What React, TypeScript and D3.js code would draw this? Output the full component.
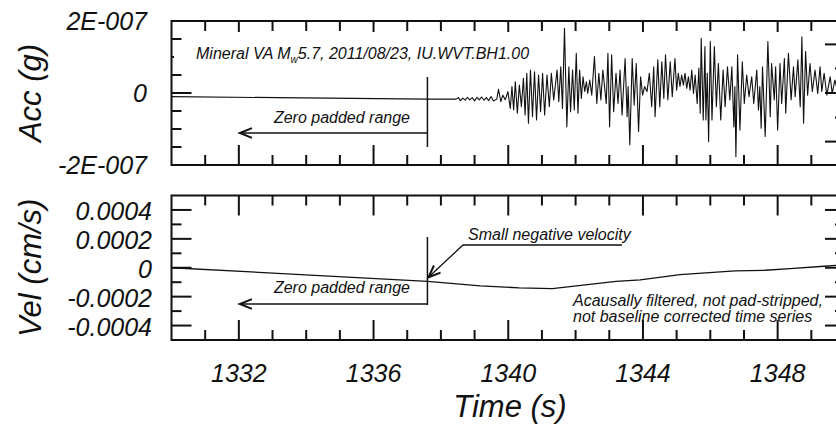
import React from 'react';
import * as d3 from 'd3';

// ---------- data ----------
const timeDomain: [number, number] = [1330, 1350];
const timeMajorTicks = [1332, 1336, 1340, 1344, 1348];
const timeMinorTicks = [1331, 1333, 1334, 1335, 1337, 1338, 1339, 1341, 1342, 1343, 1345, 1346, 1347, 1349];

// acceleration in units of 1e-7 g
const accDomain: [number, number] = [-2, 2];
const accMajorTicks = [-2, 0, 2];
const accTickLabels = ['-2E-007', '0', '2E-007'];
const accMinorTicks = [-1.5, -1, -0.5, 0.5, 1, 1.5];
const accRightMajorTicks = [-1.35, 0, 1.35];
const accRightMinorTicks = [-0.68, 0.68];

const velDomain: [number, number] = [-0.0005, 0.0005];
const velMajorTicks = [-0.0004, -0.0002, 0, 0.0002, 0.0004];
const velTickLabels = ['-0.0004', '-0.0002', '0', '0.0002', '0.0004'];
const velMinorTicks = [-0.0003, -0.0001, 0.0001, 0.0003];

// [time (s), acceleration (1e-7 g)]
const accSeries: [number, number][] = [
  [1330.0, -0.1], [1337.6, -0.17], [1338.45, -0.17], [1338.52, -0.13], [1338.58, -0.21],
  [1338.65, -0.14], [1338.72, -0.2], [1338.79, -0.12], [1338.86, -0.19], [1338.93, -0.13],
  [1339.0, -0.22], [1339.07, -0.12], [1339.14, -0.19], [1339.21, -0.11], [1339.28, -0.2],
  [1339.35, -0.13], [1339.42, -0.21], [1339.49, -0.1], [1339.56, -0.22], [1339.66, -0.17],
  [1339.71, 0.1], [1339.78, -0.24], [1339.84, -0.06], [1339.91, -0.19], [1339.99, 0.04],
  [1340.06, -0.43], [1340.11, 0.18], [1340.16, -0.47], [1340.21, 0.31], [1340.27, -0.56],
  [1340.33, 0.22], [1340.39, -0.38], [1340.45, 0.41], [1340.5, -0.61], [1340.55, 0.55],
  [1340.6, -0.84], [1340.66, 0.64], [1340.72, -0.66], [1340.78, 0.59], [1340.84, -0.75],
  [1340.9, 0.5], [1340.96, -0.52], [1341.02, 0.55], [1341.08, -0.61], [1341.15, 0.5],
  [1341.22, -0.38], [1341.28, 0.55], [1341.35, -0.19], [1341.45, 0.64], [1341.5, -0.24],
  [1341.56, 0.73], [1341.61, -0.43], [1341.67, 1.8], [1341.74, -0.94], [1341.8, 0.73],
  [1341.85, -0.52], [1341.91, 0.64], [1341.96, -0.47], [1342.02, 1.1], [1342.07, -0.56],
  [1342.12, 0.64], [1342.17, -0.15], [1342.22, 0.45], [1342.27, 0.04], [1342.32, 0.31],
  [1342.36, -0.01], [1342.42, 0.36], [1342.48, -0.06], [1342.56, 1.01], [1342.63, -0.29],
  [1342.69, 0.55], [1342.75, -0.19], [1342.81, 0.64], [1342.91, -0.29], [1342.96, 1.1],
  [1343.01, -0.94], [1343.07, 1.06], [1343.13, -0.52], [1343.2, 0.55], [1343.26, -0.29],
  [1343.32, 0.64], [1343.38, -0.61], [1343.47, 0.96], [1343.53, -0.66], [1343.56, 0.18],
  [1343.61, -1.44], [1343.68, 0.96], [1343.74, -0.33], [1343.8, 0.82], [1343.87, -1.07],
  [1343.93, 0.45], [1343.99, -0.06], [1344.05, 0.18], [1344.12, 0.04], [1344.19, 0.55],
  [1344.26, -0.38], [1344.32, 0.73], [1344.36, -0.66], [1344.44, 0.92], [1344.5, -0.38],
  [1344.56, 0.87], [1344.62, -0.15], [1344.67, 1.06], [1344.74, -0.19], [1344.81, 0.87],
  [1344.87, -0.1], [1344.95, 0.96], [1345.0, 0.08], [1345.05, 0.55], [1345.1, 0.18],
  [1345.15, 0.5], [1345.2, 0.22], [1345.25, 0.55], [1345.3, 0.13], [1345.35, 0.45],
  [1345.4, 0.08], [1345.45, 0.64], [1345.5, -0.01], [1345.55, 0.5], [1345.61, -0.29],
  [1345.66, 0.69], [1345.7, -0.56], [1345.73, 1.52], [1345.79, -0.75], [1345.84, 1.29],
  [1345.87, -0.75], [1345.91, 0.55], [1345.95, -1.35], [1346.0, 1.43], [1346.05, -0.75],
  [1346.12, 1.29], [1346.18, -0.38], [1346.24, 0.82], [1346.31, -0.75], [1346.38, 0.64],
  [1346.44, -0.38], [1346.51, 0.73], [1346.58, -0.19], [1346.64, 0.73], [1346.7, -0.94],
  [1346.73, 0.18], [1346.76, -1.77], [1346.81, 1.06], [1346.88, -1.03], [1346.95, 0.87],
  [1347.01, -0.29], [1347.08, 0.5], [1347.15, -0.1], [1347.23, 0.45], [1347.29, -0.29],
  [1347.38, 0.64], [1347.43, -0.47], [1347.47, 0.18], [1347.51, -0.98], [1347.55, 0.73],
  [1347.63, -1.21], [1347.71, 1.43], [1347.78, -0.66], [1347.82, 0.82], [1347.9, -0.19],
  [1347.94, 0.73], [1348.0, -1.03], [1348.07, 0.82], [1348.12, -0.29], [1348.2, 0.96],
  [1348.24, -0.56], [1348.32, 1.1], [1348.4, -0.19], [1348.47, 0.73], [1348.52, -0.1],
  [1348.6, 0.92], [1348.67, -0.38], [1348.72, 1.56], [1348.77, -0.84], [1348.83, 1.15],
  [1348.89, -0.06], [1348.96, 0.82], [1349.03, 0.04], [1349.11, 0.64], [1349.19, -0.01],
  [1349.26, 0.73], [1349.31, 0.04], [1349.38, 0.55], [1349.46, -0.06], [1349.56, 0.45],
  [1349.62, -0.01], [1349.7, 0.36], [1349.78, 0.05], [1349.86, 0.25], [1349.94, 0.08],
  [1350.0, 0.15],
];

// [time (s), velocity (cm/s)]
const velSeries: [number, number][] = [
  [1330.0, 0], [1337.6, -0.0000937], [1339.17, -0.000125], [1340.33, -0.000139],
  [1341.31, -0.000144], [1343.2, -0.0000937], [1343.92, -0.0000833], [1345.1, -0.0000472],
  [1346.74, -0.0000222], [1347.63, -0.0000174], [1348.37, -0.0000056], [1349.38, 0.0000104],
  [1350.0, 0.0000208],
];

const FONT = "'Liberation Sans', Arial, Helvetica, sans-serif";
const INK = '#111';

export default function App() {
  const left = 171.5;
  const right = 845;
  const aTop = 21, aBot = 165;
  const vTop = 195.5, vBot = 340;

  const x = d3.scaleLinear().domain(timeDomain).range([left, right]);
  const yA = d3.scaleLinear().domain(accDomain).range([aBot, aTop]);
  const yV = d3.scaleLinear().domain(velDomain).range([vBot, vTop]);

  const accLine = d3.line<[number, number]>().x(d => x(d[0])).y(d => yA(d[1]))(accSeries) || '';
  const velLine = d3.line<[number, number]>().x(d => x(d[0])).y(d => yV(d[1]))(velSeries) || '';

  const tk = { stroke: INK, strokeWidth: 2 };

  const xTicks = (top: number, bot: number, topMaj: number, topMin: number) => (
    <g>
      {timeMajorTicks.map(t => (
        <g key={'M' + t}>
          <line x1={x(t)} x2={x(t)} y1={top} y2={top + topMaj} {...tk} />
          <line x1={x(t)} x2={x(t)} y1={bot} y2={bot - 20} {...tk} />
        </g>
      ))}
      {timeMinorTicks.map(t => (
        <g key={'m' + t}>
          <line x1={x(t)} x2={x(t)} y1={top} y2={top + topMin} {...tk} />
          <line x1={x(t)} x2={x(t)} y1={bot} y2={bot - 10} {...tk} />
        </g>
      ))}
    </g>
  );

  const yTicks = (scale: d3.ScaleLinear<number, number>, maj: number[], min: number[], rMaj: number[], rMin: number[]) => (
    <g>
      {maj.map(v => <line key={'a' + v} x1={left} x2={left + 20} y1={scale(v)} y2={scale(v)} {...tk} />)}
      {min.map(v => <line key={'b' + v} x1={left} x2={left + 10} y1={scale(v)} y2={scale(v)} {...tk} />)}
      {rMaj.map(v => <line key={'c' + v} x1={right} x2={right - 20} y1={scale(v)} y2={scale(v)} {...tk} />)}
      {rMin.map(v => <line key={'d' + v} x1={right} x2={right - 10} y1={scale(v)} y2={scale(v)} {...tk} />)}
    </g>
  );

  const tPad = 1337.6; // end of zero padded range
  const xPad = x(tPad);
  const xArrowEnd = x(1332.03);

  // velocity arrow
  const tipX = x(tPad) + 1, tipY = yV(-0.0000937) - 4;
  const tailX = 463, tailY = 245;
  const ang = Math.atan2(tailY - tipY, tailX - tipX);
  const ah = 13, spread = 0.38;
  const arrowHead = (px: number, py: number, a: number) =>
    `M${px + ah * Math.cos(a + spread)},${py + ah * Math.sin(a + spread)} L${px},${py} L${px + ah * Math.cos(a - spread)},${py + ah * Math.sin(a - spread)}`;

  return (
    <svg width={836} height={426} style={{ position: 'absolute', left: 0, top: 0, background: '#fff' }} fontFamily={FONT}>
      <defs>
        <clipPath id="clipA"><rect x={left} y={aTop} width={right - left} height={aBot - aTop} /></clipPath>
        <clipPath id="clipV"><rect x={left} y={vTop} width={right - left} height={vBot - vTop} /></clipPath>
      </defs>
      <rect x={0} y={0} width={836} height={426} fill="#fff" />

      {/* ---------- Acc panel ---------- */}
      {xTicks(aTop, aBot, 11, 10)}
      {yTicks(yA, accMajorTicks, accMinorTicks, accRightMajorTicks, accRightMinorTicks)}
      <rect x={174} y={44} width={366} height={19} fill="#fff" />
      <text x={196} y={59} fontSize={16} fontStyle="italic" fill={INK}>
        Mineral VA M<tspan fontSize={10} dy={4}>w</tspan><tspan dy={-4}>5.7, 2011/08/23, IU.WVT.BH1.00</tspan>
      </text>
      <path d={accLine} fill="none" stroke={INK} strokeWidth={1.1} clipPath="url(#clipA)" strokeLinejoin="round" />
      <rect x={left} y={aTop} width={right - left} height={aBot - aTop} fill="none" stroke={INK} strokeWidth={2} />

      <text x={410} y={123} fontSize={16} fontStyle="italic" fill={INK} textAnchor="end">Zero padded range</text>
      <line x1={xArrowEnd} x2={xPad} y1={133} y2={133} stroke={INK} strokeWidth={1.5} />
      <path d={arrowHead(xArrowEnd, 133, 0)} fill="none" stroke={INK} strokeWidth={2} />
      <line x1={xPad} x2={xPad} y1={77} y2={147} stroke={INK} strokeWidth={1.5} />

      {accMajorTicks.map((v, i) => (
        <text key={v} x={147} y={yA(v) + 8.5} fontSize={25} fontStyle="italic" fill={INK} textAnchor="end">{accTickLabels[i]}</text>
      ))}
      <text transform={`translate(41,${yA(0)}) rotate(-90)`} fontSize={31} fontStyle="italic" fill={INK} textAnchor="middle">Acc (g)</text>

      {/* ---------- Vel panel ---------- */}
      {xTicks(vTop, vBot, 20, 10)}
      {yTicks(yV, velMajorTicks, velMinorTicks, velMajorTicks, velMinorTicks)}
      <path d={velLine} fill="none" stroke={INK} strokeWidth={1.3} clipPath="url(#clipV)" />
      <rect x={left} y={vTop} width={right - left} height={vBot - vTop} fill="none" stroke={INK} strokeWidth={2} />

      <text x={410} y={293} fontSize={16} fontStyle="italic" fill={INK} textAnchor="end">Zero padded range</text>
      <line x1={xArrowEnd} x2={xPad} y1={304} y2={304} stroke={INK} strokeWidth={1.5} />
      <path d={arrowHead(xArrowEnd, 304, 0)} fill="none" stroke={INK} strokeWidth={2} />
      <line x1={xPad} x2={xPad} y1={237} y2={305} stroke={INK} strokeWidth={1.5} />

      <text x={468} y={240} fontSize={16} fontStyle="italic" fill={INK}>Small negative velocity</text>
      <polyline points={`${tipX},${tipY} ${tailX},${tailY} 622,${tailY}`} fill="none" stroke={INK} strokeWidth={1.3} />
      <path d={arrowHead(tipX, tipY, ang)} fill="none" stroke={INK} strokeWidth={2} />

      <text x={573} y={306} fontSize={16} fontStyle="italic" fill={INK}>Acausally filtered, not pad-stripped,</text>
      <text x={573} y={322} fontSize={16} fontStyle="italic" fill={INK}>not baseline corrected time series</text>

      {velMajorTicks.map((v, i) => (
        <text key={v} x={152} y={yV(v) + 10} fontSize={25} fontStyle="italic" fill={INK} textAnchor="end">{velTickLabels[i]}</text>
      ))}
      <text transform={`translate(41,${(vTop + vBot) / 2}) rotate(-90)`} fontSize={31} fontStyle="italic" fill={INK} textAnchor="middle">Vel (cm/s)</text>

      {/* ---------- Time axis labels ---------- */}
      {timeMajorTicks.map(t => (
        <text key={t} x={x(t)} y={382} fontSize={25} fontStyle="italic" fill={INK} textAnchor="middle">{t}</text>
      ))}
      <text x={510} y={417} fontSize={31} fontStyle="italic" fill={INK} textAnchor="middle">Time (s)</text>
    </svg>
  );
}
